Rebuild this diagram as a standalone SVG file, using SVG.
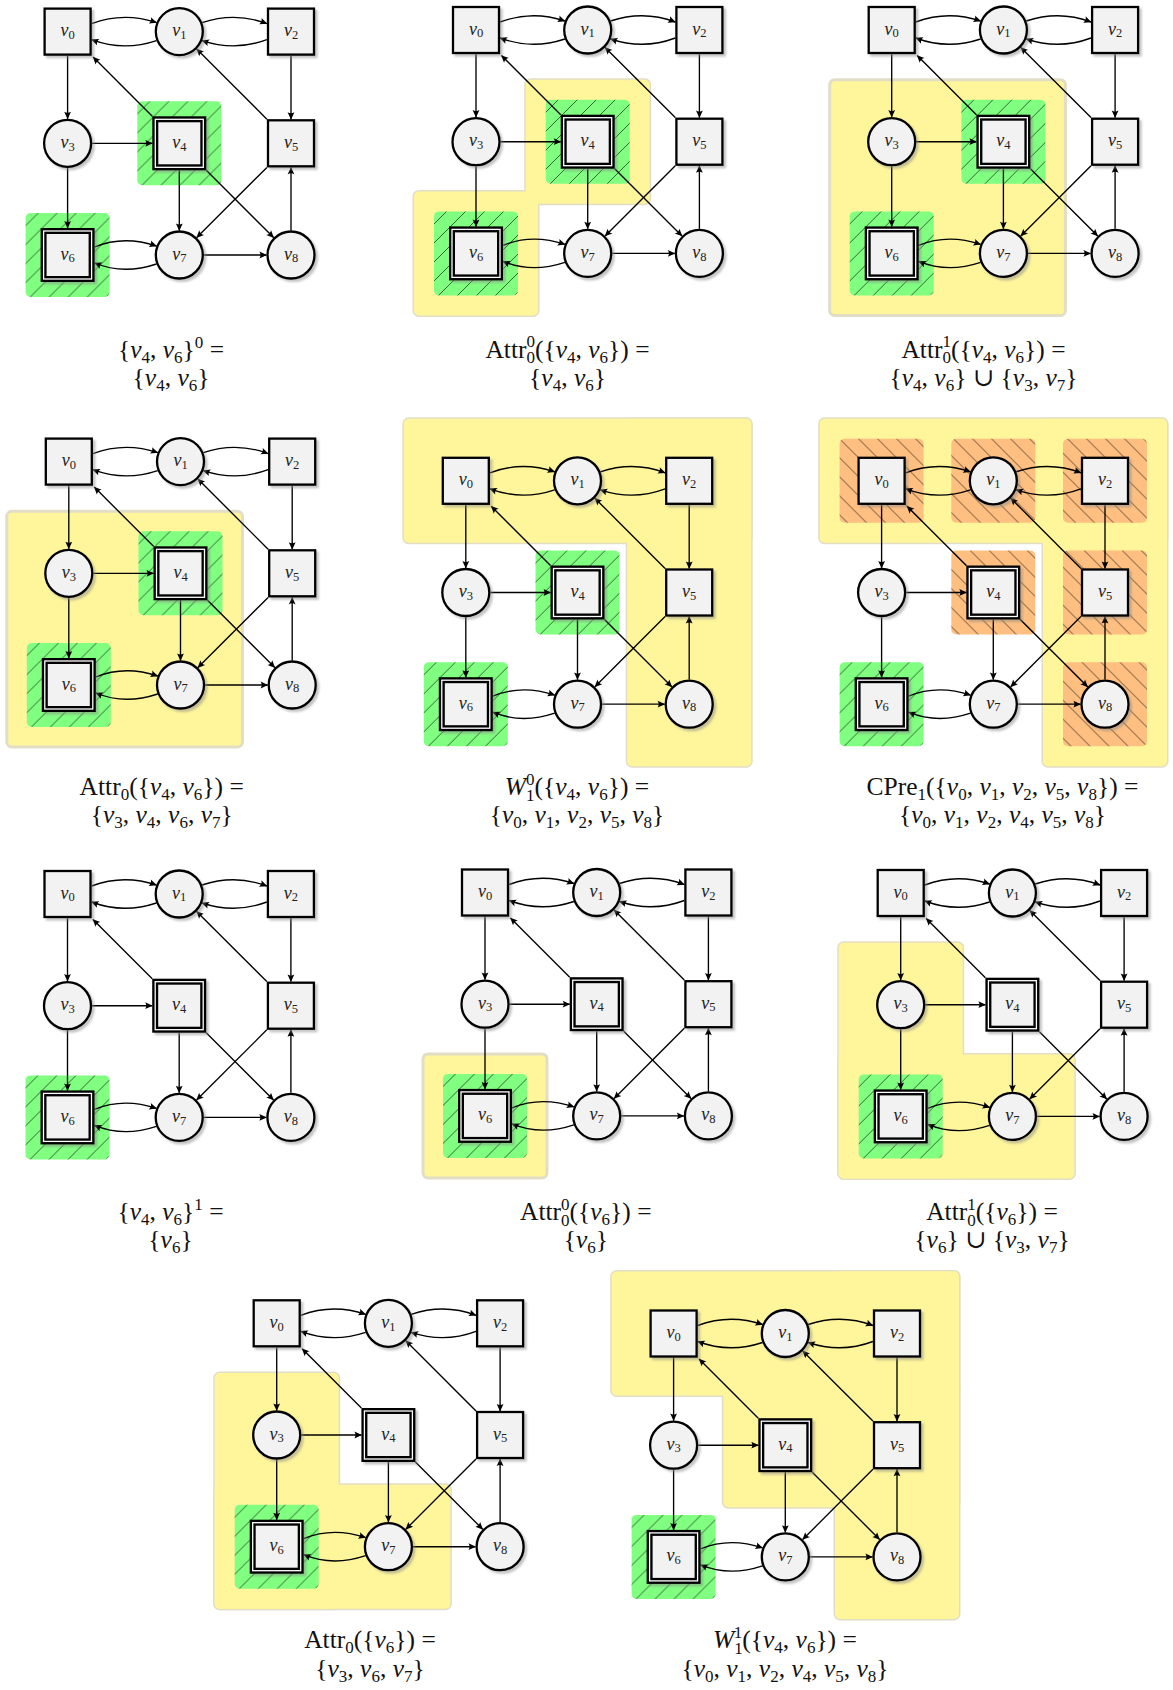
<svg xmlns="http://www.w3.org/2000/svg" xmlns:xlink="http://www.w3.org/1999/xlink" width="1173" height="1690" viewBox="0 0 1173 1690">
<style>
.edges path{fill:none;stroke:#000;stroke-width:1.35;marker-end:url(#arr)}
.nd{fill:#f2f2f2;stroke:#000;stroke-width:2.3}
.dbl{fill:#f2f2f2;stroke:#000;stroke-width:6}
.dbw{fill:none;stroke:#fff;stroke-width:1.3}
.sh{fill:#8a8a8a;opacity:.5;filter:url(#blur)}
.ys{fill:#fff59b;stroke:#e2dec6;stroke-width:3}
.yf{fill:#fff59b}
.gr{fill:url(#gp)}
.or{fill:url(#op)}
.lb{font-family:"Liberation Serif","DejaVu Serif",serif;font-size:18px;text-anchor:middle;fill:#222}
.cap{font-family:"Liberation Serif","DejaVu Serif",serif;font-size:25.5px;text-anchor:middle;fill:#111}
.i{font-style:italic}
.s{font-size:12.5px}
.cap .s{font-size:17px}
</style>
<defs>
<filter id="blur" x="-20%" y="-20%" width="140%" height="140%"><feGaussianBlur stdDeviation="0.8"/></filter>
<marker id="arr" viewBox="-8 -5 10 10" refX="0" refY="0" markerWidth="10" markerHeight="10" markerUnits="userSpaceOnUse" orient="auto"><path d="M0.5,0L-7,-3.4Q-4.8,0 -7,3.4Z" fill="#000"/></marker>
<pattern id="gp" patternUnits="userSpaceOnUse" width="19" height="19"><rect width="19" height="19" fill="#80ff80"/><path d="M0,19L19,0M-2,2L2,-2M17,21L21,17" stroke="#000" stroke-width=".6"/></pattern>
<pattern id="op" patternUnits="userSpaceOnUse" width="19" height="19"><rect width="19" height="19" fill="#ffbf80"/><path d="M0,0L19,19M17,-2L21,2M-2,17L2,21" stroke="#000" stroke-width=".6"/></pattern>
<g id="sq"><rect x="-21.6" y="-21.6" width="48.2" height="48.2" class="sh"/><rect x="-23" y="-23" width="46" height="46" class="nd"/></g>
<g id="ci"><circle cx="2.5" cy="2.5" r="24.6" class="sh"/><circle r="23.5" class="nd"/></g>
<g id="ds"><rect x="-24.5" y="-24.5" width="54" height="54" class="sh"/><rect x="-24" y="-24" width="48" height="48" class="dbl"/><rect x="-24" y="-24" width="48" height="48" class="dbw"/></g>
</defs>
<rect width="1173" height="1690" fill="#fff"/>

<!-- PANEL 1 -->
<g id="panel1">
<g transform="translate(67.6,31.6)">
<g class="regions"><rect class="gr" x="69.7" y="69.7" width="84" height="84" rx="5"/><rect class="gr" x="-42" y="181.4" width="84" height="84" rx="5"/></g>
<g id="p1-connectors" class="edges">
<path d="M24.1,-8Q56,-20 88.9,-9"/><path d="M88.9,9Q56,20 24.1,8"/><path d="M134.5,-9Q167.5,-20 199.3,-8"/><path d="M199.3,8Q167.5,20 134.5,9"/><path d="M0,24.1V87.1"/><path d="M84.7,84.7L25.5,25.5"/><path d="M199.3,87.6L129.1,17.4"/><path d="M223.4,24.1V87.6"/><path d="M24.6,111.7H84.7"/><path d="M0,136.3V196.4"/><path d="M111.7,138.7V198.8"/><path d="M138.7,138.7L206,206"/><path d="M199.3,135.8L129.1,206"/><path d="M223.4,198.8V135.8"/><path d="M27,215.4Q56,203.4 88.9,214.4"/><path d="M88.9,232.4Q56,243.4 27,231.4"/><path d="M136.3,223.4H198.8"/>
</g>
<g id="p1-v0"><use href="#sq"/><text class="lb" y="4.5"><tspan class="i">v</tspan><tspan class="s" dy="2.7">0</tspan></text></g>
<g id="p1-v1" transform="translate(111.7,0)"><use href="#ci"/><text class="lb" y="4.5"><tspan class="i">v</tspan><tspan class="s" dy="2.7">1</tspan></text></g>
<g id="p1-v2" transform="translate(223.4,0)"><use href="#sq"/><text class="lb" y="4.5"><tspan class="i">v</tspan><tspan class="s" dy="2.7">2</tspan></text></g>
<g id="p1-v3" transform="translate(0,111.7)"><use href="#ci"/><text class="lb" y="4.5"><tspan class="i">v</tspan><tspan class="s" dy="2.7">3</tspan></text></g>
<g id="p1-v4" transform="translate(111.7,111.7)"><use href="#ds"/><text class="lb" y="4.5"><tspan class="i">v</tspan><tspan class="s" dy="2.7">4</tspan></text></g>
<g id="p1-v5" transform="translate(223.4,111.7)"><use href="#sq"/><text class="lb" y="4.5"><tspan class="i">v</tspan><tspan class="s" dy="2.7">5</tspan></text></g>
<g id="p1-v6" transform="translate(0,223.4)"><use href="#ds"/><text class="lb" y="4.5"><tspan class="i">v</tspan><tspan class="s" dy="2.7">6</tspan></text></g>
<g id="p1-v7" transform="translate(111.7,223.4)"><use href="#ci"/><text class="lb" y="4.5"><tspan class="i">v</tspan><tspan class="s" dy="2.7">7</tspan></text></g>
<g id="p1-v8" transform="translate(223.4,223.4)"><use href="#ci"/><text class="lb" y="4.5"><tspan class="i">v</tspan><tspan class="s" dy="2.7">8</tspan></text></g>
</g>
<text class="cap" x="171" y="357.5">{<tspan class="i">v</tspan><tspan class="s" dy="5">4</tspan><tspan dy="-5">, </tspan><tspan class="i">v</tspan><tspan class="s" dy="5">6</tspan><tspan dy="-5">}</tspan><tspan class="s" dy="-10">0</tspan><tspan dy="10"> =</tspan></text>
<text class="cap" x="171" y="386">{<tspan class="i">v</tspan><tspan class="s" dy="5">4</tspan><tspan dy="-5">, </tspan><tspan class="i">v</tspan><tspan class="s" dy="5">6</tspan><tspan dy="-5">}</tspan></text>
</g>

<!-- PANEL 2 -->
<g id="panel2">
<g transform="translate(476,30)">
<g class="regions"><rect class="ys" x="49.7" y="49.7" width="124" height="124" rx="5"/><rect class="ys" x="-62" y="161.4" width="124" height="124" rx="5"/><rect class="yf" x="49.7" y="49.7" width="124" height="124" rx="5"/><rect class="yf" x="-62" y="161.4" width="124" height="124" rx="5"/><rect class="gr" x="69.7" y="69.7" width="84" height="84" rx="5"/><rect class="gr" x="-42" y="181.4" width="84" height="84" rx="5"/></g>
<g id="p2-connectors" class="edges">
<path d="M24.1,-8Q56,-20 88.9,-9"/><path d="M88.9,9Q56,20 24.1,8"/><path d="M134.5,-9Q167.5,-20 199.3,-8"/><path d="M199.3,8Q167.5,20 134.5,9"/><path d="M0,24.1V87.1"/><path d="M84.7,84.7L25.5,25.5"/><path d="M199.3,87.6L129.1,17.4"/><path d="M223.4,24.1V87.6"/><path d="M24.6,111.7H84.7"/><path d="M0,136.3V196.4"/><path d="M111.7,138.7V198.8"/><path d="M138.7,138.7L206,206"/><path d="M199.3,135.8L129.1,206"/><path d="M223.4,198.8V135.8"/><path d="M27,215.4Q56,203.4 88.9,214.4"/><path d="M88.9,232.4Q56,243.4 27,231.4"/><path d="M136.3,223.4H198.8"/>
</g>
<g id="p2-v0"><use href="#sq"/><text class="lb" y="4.5"><tspan class="i">v</tspan><tspan class="s" dy="2.7">0</tspan></text></g>
<g id="p2-v1" transform="translate(111.7,0)"><use href="#ci"/><text class="lb" y="4.5"><tspan class="i">v</tspan><tspan class="s" dy="2.7">1</tspan></text></g>
<g id="p2-v2" transform="translate(223.4,0)"><use href="#sq"/><text class="lb" y="4.5"><tspan class="i">v</tspan><tspan class="s" dy="2.7">2</tspan></text></g>
<g id="p2-v3" transform="translate(0,111.7)"><use href="#ci"/><text class="lb" y="4.5"><tspan class="i">v</tspan><tspan class="s" dy="2.7">3</tspan></text></g>
<g id="p2-v4" transform="translate(111.7,111.7)"><use href="#ds"/><text class="lb" y="4.5"><tspan class="i">v</tspan><tspan class="s" dy="2.7">4</tspan></text></g>
<g id="p2-v5" transform="translate(223.4,111.7)"><use href="#sq"/><text class="lb" y="4.5"><tspan class="i">v</tspan><tspan class="s" dy="2.7">5</tspan></text></g>
<g id="p2-v6" transform="translate(0,223.4)"><use href="#ds"/><text class="lb" y="4.5"><tspan class="i">v</tspan><tspan class="s" dy="2.7">6</tspan></text></g>
<g id="p2-v7" transform="translate(111.7,223.4)"><use href="#ci"/><text class="lb" y="4.5"><tspan class="i">v</tspan><tspan class="s" dy="2.7">7</tspan></text></g>
<g id="p2-v8" transform="translate(223.4,223.4)"><use href="#ci"/><text class="lb" y="4.5"><tspan class="i">v</tspan><tspan class="s" dy="2.7">8</tspan></text></g>
</g>
<text class="cap" x="567.5" y="357.5">Attr<tspan class="s" dy="5.5">0</tspan><tspan class="s" dx="-8.5" dy="-16">0</tspan><tspan dy="10.5">({</tspan><tspan class="i">v</tspan><tspan class="s" dy="5">4</tspan><tspan dy="-5">, </tspan><tspan class="i">v</tspan><tspan class="s" dy="5">6</tspan><tspan dy="-5">}) =</tspan></text>
<text class="cap" x="567.5" y="386">{<tspan class="i">v</tspan><tspan class="s" dy="5">4</tspan><tspan dy="-5">, </tspan><tspan class="i">v</tspan><tspan class="s" dy="5">6</tspan><tspan dy="-5">}</tspan></text>
</g>

<!-- PANEL 3 -->
<g id="panel3">
<g transform="translate(891.7,30)">
<g class="regions"><rect class="ys" x="-62" y="49.7" width="235.7" height="235.7" rx="5"/><rect class="gr" x="69.7" y="69.7" width="84" height="84" rx="5"/><rect class="gr" x="-42" y="181.4" width="84" height="84" rx="5"/></g>
<g id="p3-connectors" class="edges">
<path d="M24.1,-8Q56,-20 88.9,-9"/><path d="M88.9,9Q56,20 24.1,8"/><path d="M134.5,-9Q167.5,-20 199.3,-8"/><path d="M199.3,8Q167.5,20 134.5,9"/><path d="M0,24.1V87.1"/><path d="M84.7,84.7L25.5,25.5"/><path d="M199.3,87.6L129.1,17.4"/><path d="M223.4,24.1V87.6"/><path d="M24.6,111.7H84.7"/><path d="M0,136.3V196.4"/><path d="M111.7,138.7V198.8"/><path d="M138.7,138.7L206,206"/><path d="M199.3,135.8L129.1,206"/><path d="M223.4,198.8V135.8"/><path d="M27,215.4Q56,203.4 88.9,214.4"/><path d="M88.9,232.4Q56,243.4 27,231.4"/><path d="M136.3,223.4H198.8"/>
</g>
<g id="p3-v0"><use href="#sq"/><text class="lb" y="4.5"><tspan class="i">v</tspan><tspan class="s" dy="2.7">0</tspan></text></g>
<g id="p3-v1" transform="translate(111.7,0)"><use href="#ci"/><text class="lb" y="4.5"><tspan class="i">v</tspan><tspan class="s" dy="2.7">1</tspan></text></g>
<g id="p3-v2" transform="translate(223.4,0)"><use href="#sq"/><text class="lb" y="4.5"><tspan class="i">v</tspan><tspan class="s" dy="2.7">2</tspan></text></g>
<g id="p3-v3" transform="translate(0,111.7)"><use href="#ci"/><text class="lb" y="4.5"><tspan class="i">v</tspan><tspan class="s" dy="2.7">3</tspan></text></g>
<g id="p3-v4" transform="translate(111.7,111.7)"><use href="#ds"/><text class="lb" y="4.5"><tspan class="i">v</tspan><tspan class="s" dy="2.7">4</tspan></text></g>
<g id="p3-v5" transform="translate(223.4,111.7)"><use href="#sq"/><text class="lb" y="4.5"><tspan class="i">v</tspan><tspan class="s" dy="2.7">5</tspan></text></g>
<g id="p3-v6" transform="translate(0,223.4)"><use href="#ds"/><text class="lb" y="4.5"><tspan class="i">v</tspan><tspan class="s" dy="2.7">6</tspan></text></g>
<g id="p3-v7" transform="translate(111.7,223.4)"><use href="#ci"/><text class="lb" y="4.5"><tspan class="i">v</tspan><tspan class="s" dy="2.7">7</tspan></text></g>
<g id="p3-v8" transform="translate(223.4,223.4)"><use href="#ci"/><text class="lb" y="4.5"><tspan class="i">v</tspan><tspan class="s" dy="2.7">8</tspan></text></g>
</g>
<text class="cap" x="983.5" y="357.5">Attr<tspan class="s" dy="5.5">0</tspan><tspan class="s" dx="-8.5" dy="-16">1</tspan><tspan dy="10.5">({</tspan><tspan class="i">v</tspan><tspan class="s" dy="5">4</tspan><tspan dy="-5">, </tspan><tspan class="i">v</tspan><tspan class="s" dy="5">6</tspan><tspan dy="-5">}) =</tspan></text>
<text class="cap" x="983.5" y="386">{<tspan class="i">v</tspan><tspan class="s" dy="5">4</tspan><tspan dy="-5">, </tspan><tspan class="i">v</tspan><tspan class="s" dy="5">6</tspan><tspan dy="-5">} ∪ {</tspan><tspan class="i">v</tspan><tspan class="s" dy="5">3</tspan><tspan dy="-5">, </tspan><tspan class="i">v</tspan><tspan class="s" dy="5">7</tspan><tspan dy="-5">}</tspan></text>
</g>

<!-- PANEL 4 -->
<g id="panel4">
<g transform="translate(68.8,461.6)">
<g class="regions"><rect class="ys" x="-62" y="49.7" width="235.7" height="235.7" rx="5"/><rect class="gr" x="69.7" y="69.7" width="84" height="84" rx="5"/><rect class="gr" x="-42" y="181.4" width="84" height="84" rx="5"/></g>
<g id="p4-connectors" class="edges">
<path d="M24.1,-8Q56,-20 88.9,-9"/><path d="M88.9,9Q56,20 24.1,8"/><path d="M134.5,-9Q167.5,-20 199.3,-8"/><path d="M199.3,8Q167.5,20 134.5,9"/><path d="M0,24.1V87.1"/><path d="M84.7,84.7L25.5,25.5"/><path d="M199.3,87.6L129.1,17.4"/><path d="M223.4,24.1V87.6"/><path d="M24.6,111.7H84.7"/><path d="M0,136.3V196.4"/><path d="M111.7,138.7V198.8"/><path d="M138.7,138.7L206,206"/><path d="M199.3,135.8L129.1,206"/><path d="M223.4,198.8V135.8"/><path d="M27,215.4Q56,203.4 88.9,214.4"/><path d="M88.9,232.4Q56,243.4 27,231.4"/><path d="M136.3,223.4H198.8"/>
</g>
<g id="p4-v0"><use href="#sq"/><text class="lb" y="4.5"><tspan class="i">v</tspan><tspan class="s" dy="2.7">0</tspan></text></g>
<g id="p4-v1" transform="translate(111.7,0)"><use href="#ci"/><text class="lb" y="4.5"><tspan class="i">v</tspan><tspan class="s" dy="2.7">1</tspan></text></g>
<g id="p4-v2" transform="translate(223.4,0)"><use href="#sq"/><text class="lb" y="4.5"><tspan class="i">v</tspan><tspan class="s" dy="2.7">2</tspan></text></g>
<g id="p4-v3" transform="translate(0,111.7)"><use href="#ci"/><text class="lb" y="4.5"><tspan class="i">v</tspan><tspan class="s" dy="2.7">3</tspan></text></g>
<g id="p4-v4" transform="translate(111.7,111.7)"><use href="#ds"/><text class="lb" y="4.5"><tspan class="i">v</tspan><tspan class="s" dy="2.7">4</tspan></text></g>
<g id="p4-v5" transform="translate(223.4,111.7)"><use href="#sq"/><text class="lb" y="4.5"><tspan class="i">v</tspan><tspan class="s" dy="2.7">5</tspan></text></g>
<g id="p4-v6" transform="translate(0,223.4)"><use href="#ds"/><text class="lb" y="4.5"><tspan class="i">v</tspan><tspan class="s" dy="2.7">6</tspan></text></g>
<g id="p4-v7" transform="translate(111.7,223.4)"><use href="#ci"/><text class="lb" y="4.5"><tspan class="i">v</tspan><tspan class="s" dy="2.7">7</tspan></text></g>
<g id="p4-v8" transform="translate(223.4,223.4)"><use href="#ci"/><text class="lb" y="4.5"><tspan class="i">v</tspan><tspan class="s" dy="2.7">8</tspan></text></g>
</g>
<text class="cap" x="161.7" y="795">Attr<tspan class="s" dy="5">0</tspan><tspan dy="-5">({</tspan><tspan class="i">v</tspan><tspan class="s" dy="5">4</tspan><tspan dy="-5">, </tspan><tspan class="i">v</tspan><tspan class="s" dy="5">6</tspan><tspan dy="-5">}) =</tspan></text>
<text class="cap" x="161.7" y="823">{<tspan class="i">v</tspan><tspan class="s" dy="5">3</tspan><tspan dy="-5">, </tspan><tspan class="i">v</tspan><tspan class="s" dy="5">4</tspan><tspan dy="-5">, </tspan><tspan class="i">v</tspan><tspan class="s" dy="5">6</tspan><tspan dy="-5">, </tspan><tspan class="i">v</tspan><tspan class="s" dy="5">7</tspan><tspan dy="-5">}</tspan></text>
</g>

<!-- PANEL 5 -->
<g id="panel5">
<g transform="translate(465.8,480.8)">
<g class="regions"><rect class="ys" x="-62" y="-62" width="347.4" height="124" rx="5"/><rect class="ys" x="161.4" y="-62" width="124" height="347.4" rx="5"/><rect class="yf" x="-62" y="-62" width="347.4" height="124" rx="5"/><rect class="yf" x="161.4" y="-62" width="124" height="347.4" rx="5"/><rect class="gr" x="69.7" y="69.7" width="84" height="84" rx="5"/><rect class="gr" x="-42" y="181.4" width="84" height="84" rx="5"/></g>
<g id="p5-connectors" class="edges">
<path d="M24.1,-8Q56,-20 88.9,-9"/><path d="M88.9,9Q56,20 24.1,8"/><path d="M134.5,-9Q167.5,-20 199.3,-8"/><path d="M199.3,8Q167.5,20 134.5,9"/><path d="M0,24.1V87.1"/><path d="M84.7,84.7L25.5,25.5"/><path d="M199.3,87.6L129.1,17.4"/><path d="M223.4,24.1V87.6"/><path d="M24.6,111.7H84.7"/><path d="M0,136.3V196.4"/><path d="M111.7,138.7V198.8"/><path d="M138.7,138.7L206,206"/><path d="M199.3,135.8L129.1,206"/><path d="M223.4,198.8V135.8"/><path d="M27,215.4Q56,203.4 88.9,214.4"/><path d="M88.9,232.4Q56,243.4 27,231.4"/><path d="M136.3,223.4H198.8"/>
</g>
<g id="p5-v0"><use href="#sq"/><text class="lb" y="4.5"><tspan class="i">v</tspan><tspan class="s" dy="2.7">0</tspan></text></g>
<g id="p5-v1" transform="translate(111.7,0)"><use href="#ci"/><text class="lb" y="4.5"><tspan class="i">v</tspan><tspan class="s" dy="2.7">1</tspan></text></g>
<g id="p5-v2" transform="translate(223.4,0)"><use href="#sq"/><text class="lb" y="4.5"><tspan class="i">v</tspan><tspan class="s" dy="2.7">2</tspan></text></g>
<g id="p5-v3" transform="translate(0,111.7)"><use href="#ci"/><text class="lb" y="4.5"><tspan class="i">v</tspan><tspan class="s" dy="2.7">3</tspan></text></g>
<g id="p5-v4" transform="translate(111.7,111.7)"><use href="#ds"/><text class="lb" y="4.5"><tspan class="i">v</tspan><tspan class="s" dy="2.7">4</tspan></text></g>
<g id="p5-v5" transform="translate(223.4,111.7)"><use href="#sq"/><text class="lb" y="4.5"><tspan class="i">v</tspan><tspan class="s" dy="2.7">5</tspan></text></g>
<g id="p5-v6" transform="translate(0,223.4)"><use href="#ds"/><text class="lb" y="4.5"><tspan class="i">v</tspan><tspan class="s" dy="2.7">6</tspan></text></g>
<g id="p5-v7" transform="translate(111.7,223.4)"><use href="#ci"/><text class="lb" y="4.5"><tspan class="i">v</tspan><tspan class="s" dy="2.7">7</tspan></text></g>
<g id="p5-v8" transform="translate(223.4,223.4)"><use href="#ci"/><text class="lb" y="4.5"><tspan class="i">v</tspan><tspan class="s" dy="2.7">8</tspan></text></g>
</g>
<text class="cap" x="577" y="795"><tspan class="i">W</tspan><tspan class="s" dy="5.5">1</tspan><tspan class="s" dx="-8.5" dy="-16">0</tspan><tspan dy="10.5">({</tspan><tspan class="i">v</tspan><tspan class="s" dy="5">4</tspan><tspan dy="-5">, </tspan><tspan class="i">v</tspan><tspan class="s" dy="5">6</tspan><tspan dy="-5">}) =</tspan></text>
<text class="cap" x="577" y="823">{<tspan class="i">v</tspan><tspan class="s" dy="5">0</tspan><tspan dy="-5">, </tspan><tspan class="i">v</tspan><tspan class="s" dy="5">1</tspan><tspan dy="-5">, </tspan><tspan class="i">v</tspan><tspan class="s" dy="5">2</tspan><tspan dy="-5">, </tspan><tspan class="i">v</tspan><tspan class="s" dy="5">5</tspan><tspan dy="-5">, </tspan><tspan class="i">v</tspan><tspan class="s" dy="5">8</tspan><tspan dy="-5">}</tspan></text>
</g>

<!-- PANEL 6 -->
<g id="panel6">
<g transform="translate(881.6,480.8)">
<g class="regions"><rect class="ys" x="-62" y="-62" width="347.4" height="124" rx="5"/><rect class="ys" x="161.4" y="-62" width="124" height="347.4" rx="5"/><rect class="yf" x="-62" y="-62" width="347.4" height="124" rx="5"/><rect class="yf" x="161.4" y="-62" width="124" height="347.4" rx="5"/><rect class="or" x="-42" y="-42" width="84" height="84" rx="5"/><rect class="or" x="69.7" y="-42" width="84" height="84" rx="5"/><rect class="or" x="181.4" y="-42" width="84" height="84" rx="5"/><rect class="or" x="69.7" y="69.7" width="84" height="84" rx="5"/><rect class="or" x="181.4" y="69.7" width="84" height="84" rx="5"/><rect class="or" x="181.4" y="181.4" width="84" height="84" rx="5"/><rect class="gr" x="-42" y="181.4" width="84" height="84" rx="5"/></g>
<g id="p6-connectors" class="edges">
<path d="M24.1,-8Q56,-20 88.9,-9"/><path d="M88.9,9Q56,20 24.1,8"/><path d="M134.5,-9Q167.5,-20 199.3,-8"/><path d="M199.3,8Q167.5,20 134.5,9"/><path d="M0,24.1V87.1"/><path d="M84.7,84.7L25.5,25.5"/><path d="M199.3,87.6L129.1,17.4"/><path d="M223.4,24.1V87.6"/><path d="M24.6,111.7H84.7"/><path d="M0,136.3V196.4"/><path d="M111.7,138.7V198.8"/><path d="M138.7,138.7L206,206"/><path d="M199.3,135.8L129.1,206"/><path d="M223.4,198.8V135.8"/><path d="M27,215.4Q56,203.4 88.9,214.4"/><path d="M88.9,232.4Q56,243.4 27,231.4"/><path d="M136.3,223.4H198.8"/>
</g>
<g id="p6-v0"><use href="#sq"/><text class="lb" y="4.5"><tspan class="i">v</tspan><tspan class="s" dy="2.7">0</tspan></text></g>
<g id="p6-v1" transform="translate(111.7,0)"><use href="#ci"/><text class="lb" y="4.5"><tspan class="i">v</tspan><tspan class="s" dy="2.7">1</tspan></text></g>
<g id="p6-v2" transform="translate(223.4,0)"><use href="#sq"/><text class="lb" y="4.5"><tspan class="i">v</tspan><tspan class="s" dy="2.7">2</tspan></text></g>
<g id="p6-v3" transform="translate(0,111.7)"><use href="#ci"/><text class="lb" y="4.5"><tspan class="i">v</tspan><tspan class="s" dy="2.7">3</tspan></text></g>
<g id="p6-v4" transform="translate(111.7,111.7)"><use href="#ds"/><text class="lb" y="4.5"><tspan class="i">v</tspan><tspan class="s" dy="2.7">4</tspan></text></g>
<g id="p6-v5" transform="translate(223.4,111.7)"><use href="#sq"/><text class="lb" y="4.5"><tspan class="i">v</tspan><tspan class="s" dy="2.7">5</tspan></text></g>
<g id="p6-v6" transform="translate(0,223.4)"><use href="#ds"/><text class="lb" y="4.5"><tspan class="i">v</tspan><tspan class="s" dy="2.7">6</tspan></text></g>
<g id="p6-v7" transform="translate(111.7,223.4)"><use href="#ci"/><text class="lb" y="4.5"><tspan class="i">v</tspan><tspan class="s" dy="2.7">7</tspan></text></g>
<g id="p6-v8" transform="translate(223.4,223.4)"><use href="#ci"/><text class="lb" y="4.5"><tspan class="i">v</tspan><tspan class="s" dy="2.7">8</tspan></text></g>
</g>
<text class="cap" x="1002.5" y="795">CPre<tspan class="s" dy="5">1</tspan><tspan dy="-5">({</tspan><tspan class="i">v</tspan><tspan class="s" dy="5">0</tspan><tspan dy="-5">, </tspan><tspan class="i">v</tspan><tspan class="s" dy="5">1</tspan><tspan dy="-5">, </tspan><tspan class="i">v</tspan><tspan class="s" dy="5">2</tspan><tspan dy="-5">, </tspan><tspan class="i">v</tspan><tspan class="s" dy="5">5</tspan><tspan dy="-5">, </tspan><tspan class="i">v</tspan><tspan class="s" dy="5">8</tspan><tspan dy="-5">}) =</tspan></text>
<text class="cap" x="1002.5" y="823">{<tspan class="i">v</tspan><tspan class="s" dy="5">0</tspan><tspan dy="-5">, </tspan><tspan class="i">v</tspan><tspan class="s" dy="5">1</tspan><tspan dy="-5">, </tspan><tspan class="i">v</tspan><tspan class="s" dy="5">2</tspan><tspan dy="-5">, </tspan><tspan class="i">v</tspan><tspan class="s" dy="5">4</tspan><tspan dy="-5">, </tspan><tspan class="i">v</tspan><tspan class="s" dy="5">5</tspan><tspan dy="-5">, </tspan><tspan class="i">v</tspan><tspan class="s" dy="5">8</tspan><tspan dy="-5">}</tspan></text>
</g>

<!-- PANEL 7 -->
<g id="panel7">
<g transform="translate(67.5,894)">
<g class="regions"><rect class="gr" x="-42" y="181.4" width="84" height="84" rx="5"/></g>
<g id="p7-connectors" class="edges">
<path d="M24.1,-8Q56,-20 88.9,-9"/><path d="M88.9,9Q56,20 24.1,8"/><path d="M134.5,-9Q167.5,-20 199.3,-8"/><path d="M199.3,8Q167.5,20 134.5,9"/><path d="M0,24.1V87.1"/><path d="M84.7,84.7L25.5,25.5"/><path d="M199.3,87.6L129.1,17.4"/><path d="M223.4,24.1V87.6"/><path d="M24.6,111.7H84.7"/><path d="M0,136.3V196.4"/><path d="M111.7,138.7V198.8"/><path d="M138.7,138.7L206,206"/><path d="M199.3,135.8L129.1,206"/><path d="M223.4,198.8V135.8"/><path d="M27,215.4Q56,203.4 88.9,214.4"/><path d="M88.9,232.4Q56,243.4 27,231.4"/><path d="M136.3,223.4H198.8"/>
</g>
<g id="p7-v0"><use href="#sq"/><text class="lb" y="4.5"><tspan class="i">v</tspan><tspan class="s" dy="2.7">0</tspan></text></g>
<g id="p7-v1" transform="translate(111.7,0)"><use href="#ci"/><text class="lb" y="4.5"><tspan class="i">v</tspan><tspan class="s" dy="2.7">1</tspan></text></g>
<g id="p7-v2" transform="translate(223.4,0)"><use href="#sq"/><text class="lb" y="4.5"><tspan class="i">v</tspan><tspan class="s" dy="2.7">2</tspan></text></g>
<g id="p7-v3" transform="translate(0,111.7)"><use href="#ci"/><text class="lb" y="4.5"><tspan class="i">v</tspan><tspan class="s" dy="2.7">3</tspan></text></g>
<g id="p7-v4" transform="translate(111.7,111.7)"><use href="#ds"/><text class="lb" y="4.5"><tspan class="i">v</tspan><tspan class="s" dy="2.7">4</tspan></text></g>
<g id="p7-v5" transform="translate(223.4,111.7)"><use href="#sq"/><text class="lb" y="4.5"><tspan class="i">v</tspan><tspan class="s" dy="2.7">5</tspan></text></g>
<g id="p7-v6" transform="translate(0,223.4)"><use href="#ds"/><text class="lb" y="4.5"><tspan class="i">v</tspan><tspan class="s" dy="2.7">6</tspan></text></g>
<g id="p7-v7" transform="translate(111.7,223.4)"><use href="#ci"/><text class="lb" y="4.5"><tspan class="i">v</tspan><tspan class="s" dy="2.7">7</tspan></text></g>
<g id="p7-v8" transform="translate(223.4,223.4)"><use href="#ci"/><text class="lb" y="4.5"><tspan class="i">v</tspan><tspan class="s" dy="2.7">8</tspan></text></g>
</g>
<text class="cap" x="170.5" y="1220">{<tspan class="i">v</tspan><tspan class="s" dy="5">4</tspan><tspan dy="-5">, </tspan><tspan class="i">v</tspan><tspan class="s" dy="5">6</tspan><tspan dy="-5">}</tspan><tspan class="s" dy="-10">1</tspan><tspan dy="10"> =</tspan></text>
<text class="cap" x="170.5" y="1248">{<tspan class="i">v</tspan><tspan class="s" dy="5">6</tspan><tspan dy="-5">}</tspan></text>
</g>

<!-- PANEL 8 -->
<g id="panel8">
<g transform="translate(485,892.5)">
<g class="regions"><rect class="ys" x="-62" y="161.4" width="124" height="124" rx="5"/><rect class="gr" x="-42" y="181.4" width="84" height="84" rx="5"/></g>
<g id="p8-connectors" class="edges">
<path d="M24.1,-8Q56,-20 88.9,-9"/><path d="M88.9,9Q56,20 24.1,8"/><path d="M134.5,-9Q167.5,-20 199.3,-8"/><path d="M199.3,8Q167.5,20 134.5,9"/><path d="M0,24.1V87.1"/><path d="M84.7,84.7L25.5,25.5"/><path d="M199.3,87.6L129.1,17.4"/><path d="M223.4,24.1V87.6"/><path d="M24.6,111.7H84.7"/><path d="M0,136.3V196.4"/><path d="M111.7,138.7V198.8"/><path d="M138.7,138.7L206,206"/><path d="M199.3,135.8L129.1,206"/><path d="M223.4,198.8V135.8"/><path d="M27,215.4Q56,203.4 88.9,214.4"/><path d="M88.9,232.4Q56,243.4 27,231.4"/><path d="M136.3,223.4H198.8"/>
</g>
<g id="p8-v0"><use href="#sq"/><text class="lb" y="4.5"><tspan class="i">v</tspan><tspan class="s" dy="2.7">0</tspan></text></g>
<g id="p8-v1" transform="translate(111.7,0)"><use href="#ci"/><text class="lb" y="4.5"><tspan class="i">v</tspan><tspan class="s" dy="2.7">1</tspan></text></g>
<g id="p8-v2" transform="translate(223.4,0)"><use href="#sq"/><text class="lb" y="4.5"><tspan class="i">v</tspan><tspan class="s" dy="2.7">2</tspan></text></g>
<g id="p8-v3" transform="translate(0,111.7)"><use href="#ci"/><text class="lb" y="4.5"><tspan class="i">v</tspan><tspan class="s" dy="2.7">3</tspan></text></g>
<g id="p8-v4" transform="translate(111.7,111.7)"><use href="#ds"/><text class="lb" y="4.5"><tspan class="i">v</tspan><tspan class="s" dy="2.7">4</tspan></text></g>
<g id="p8-v5" transform="translate(223.4,111.7)"><use href="#sq"/><text class="lb" y="4.5"><tspan class="i">v</tspan><tspan class="s" dy="2.7">5</tspan></text></g>
<g id="p8-v6" transform="translate(0,223.4)"><use href="#ds"/><text class="lb" y="4.5"><tspan class="i">v</tspan><tspan class="s" dy="2.7">6</tspan></text></g>
<g id="p8-v7" transform="translate(111.7,223.4)"><use href="#ci"/><text class="lb" y="4.5"><tspan class="i">v</tspan><tspan class="s" dy="2.7">7</tspan></text></g>
<g id="p8-v8" transform="translate(223.4,223.4)"><use href="#ci"/><text class="lb" y="4.5"><tspan class="i">v</tspan><tspan class="s" dy="2.7">8</tspan></text></g>
</g>
<text class="cap" x="585.8" y="1220">Attr<tspan class="s" dy="5.5">0</tspan><tspan class="s" dx="-8.5" dy="-16">0</tspan><tspan dy="10.5">({</tspan><tspan class="i">v</tspan><tspan class="s" dy="5">6</tspan><tspan dy="-5">}) =</tspan></text>
<text class="cap" x="585.8" y="1248">{<tspan class="i">v</tspan><tspan class="s" dy="5">6</tspan><tspan dy="-5">}</tspan></text>
</g>

<!-- PANEL 9 -->
<g id="panel9">
<g transform="translate(900.7,893)">
<g class="regions"><rect class="ys" x="-62" y="49.7" width="124" height="235.7" rx="5"/><rect class="ys" x="-62" y="161.4" width="235.7" height="124" rx="5"/><rect class="yf" x="-62" y="49.7" width="124" height="235.7" rx="5"/><rect class="yf" x="-62" y="161.4" width="235.7" height="124" rx="5"/><rect class="gr" x="-42" y="181.4" width="84" height="84" rx="5"/></g>
<g id="p9-connectors" class="edges">
<path d="M24.1,-8Q56,-20 88.9,-9"/><path d="M88.9,9Q56,20 24.1,8"/><path d="M134.5,-9Q167.5,-20 199.3,-8"/><path d="M199.3,8Q167.5,20 134.5,9"/><path d="M0,24.1V87.1"/><path d="M84.7,84.7L25.5,25.5"/><path d="M199.3,87.6L129.1,17.4"/><path d="M223.4,24.1V87.6"/><path d="M24.6,111.7H84.7"/><path d="M0,136.3V196.4"/><path d="M111.7,138.7V198.8"/><path d="M138.7,138.7L206,206"/><path d="M199.3,135.8L129.1,206"/><path d="M223.4,198.8V135.8"/><path d="M27,215.4Q56,203.4 88.9,214.4"/><path d="M88.9,232.4Q56,243.4 27,231.4"/><path d="M136.3,223.4H198.8"/>
</g>
<g id="p9-v0"><use href="#sq"/><text class="lb" y="4.5"><tspan class="i">v</tspan><tspan class="s" dy="2.7">0</tspan></text></g>
<g id="p9-v1" transform="translate(111.7,0)"><use href="#ci"/><text class="lb" y="4.5"><tspan class="i">v</tspan><tspan class="s" dy="2.7">1</tspan></text></g>
<g id="p9-v2" transform="translate(223.4,0)"><use href="#sq"/><text class="lb" y="4.5"><tspan class="i">v</tspan><tspan class="s" dy="2.7">2</tspan></text></g>
<g id="p9-v3" transform="translate(0,111.7)"><use href="#ci"/><text class="lb" y="4.5"><tspan class="i">v</tspan><tspan class="s" dy="2.7">3</tspan></text></g>
<g id="p9-v4" transform="translate(111.7,111.7)"><use href="#ds"/><text class="lb" y="4.5"><tspan class="i">v</tspan><tspan class="s" dy="2.7">4</tspan></text></g>
<g id="p9-v5" transform="translate(223.4,111.7)"><use href="#sq"/><text class="lb" y="4.5"><tspan class="i">v</tspan><tspan class="s" dy="2.7">5</tspan></text></g>
<g id="p9-v6" transform="translate(0,223.4)"><use href="#ds"/><text class="lb" y="4.5"><tspan class="i">v</tspan><tspan class="s" dy="2.7">6</tspan></text></g>
<g id="p9-v7" transform="translate(111.7,223.4)"><use href="#ci"/><text class="lb" y="4.5"><tspan class="i">v</tspan><tspan class="s" dy="2.7">7</tspan></text></g>
<g id="p9-v8" transform="translate(223.4,223.4)"><use href="#ci"/><text class="lb" y="4.5"><tspan class="i">v</tspan><tspan class="s" dy="2.7">8</tspan></text></g>
</g>
<text class="cap" x="992" y="1220">Attr<tspan class="s" dy="5.5">0</tspan><tspan class="s" dx="-8.5" dy="-16">1</tspan><tspan dy="10.5">({</tspan><tspan class="i">v</tspan><tspan class="s" dy="5">6</tspan><tspan dy="-5">}) =</tspan></text>
<text class="cap" x="992" y="1248">{<tspan class="i">v</tspan><tspan class="s" dy="5">6</tspan><tspan dy="-5">} ∪ {</tspan><tspan class="i">v</tspan><tspan class="s" dy="5">3</tspan><tspan dy="-5">, </tspan><tspan class="i">v</tspan><tspan class="s" dy="5">7</tspan><tspan dy="-5">}</tspan></text>
</g>

<!-- PANEL 10 -->
<g id="panel10">
<g transform="translate(276.7,1323.3)">
<g class="regions"><rect class="ys" x="-62" y="49.7" width="124" height="235.7" rx="5"/><rect class="ys" x="-62" y="161.4" width="235.7" height="124" rx="5"/><rect class="yf" x="-62" y="49.7" width="124" height="235.7" rx="5"/><rect class="yf" x="-62" y="161.4" width="235.7" height="124" rx="5"/><rect class="gr" x="-42" y="181.4" width="84" height="84" rx="5"/></g>
<g id="p10-connectors" class="edges">
<path d="M24.1,-8Q56,-20 88.9,-9"/><path d="M88.9,9Q56,20 24.1,8"/><path d="M134.5,-9Q167.5,-20 199.3,-8"/><path d="M199.3,8Q167.5,20 134.5,9"/><path d="M0,24.1V87.1"/><path d="M84.7,84.7L25.5,25.5"/><path d="M199.3,87.6L129.1,17.4"/><path d="M223.4,24.1V87.6"/><path d="M24.6,111.7H84.7"/><path d="M0,136.3V196.4"/><path d="M111.7,138.7V198.8"/><path d="M138.7,138.7L206,206"/><path d="M199.3,135.8L129.1,206"/><path d="M223.4,198.8V135.8"/><path d="M27,215.4Q56,203.4 88.9,214.4"/><path d="M88.9,232.4Q56,243.4 27,231.4"/><path d="M136.3,223.4H198.8"/>
</g>
<g id="p10-v0"><use href="#sq"/><text class="lb" y="4.5"><tspan class="i">v</tspan><tspan class="s" dy="2.7">0</tspan></text></g>
<g id="p10-v1" transform="translate(111.7,0)"><use href="#ci"/><text class="lb" y="4.5"><tspan class="i">v</tspan><tspan class="s" dy="2.7">1</tspan></text></g>
<g id="p10-v2" transform="translate(223.4,0)"><use href="#sq"/><text class="lb" y="4.5"><tspan class="i">v</tspan><tspan class="s" dy="2.7">2</tspan></text></g>
<g id="p10-v3" transform="translate(0,111.7)"><use href="#ci"/><text class="lb" y="4.5"><tspan class="i">v</tspan><tspan class="s" dy="2.7">3</tspan></text></g>
<g id="p10-v4" transform="translate(111.7,111.7)"><use href="#ds"/><text class="lb" y="4.5"><tspan class="i">v</tspan><tspan class="s" dy="2.7">4</tspan></text></g>
<g id="p10-v5" transform="translate(223.4,111.7)"><use href="#sq"/><text class="lb" y="4.5"><tspan class="i">v</tspan><tspan class="s" dy="2.7">5</tspan></text></g>
<g id="p10-v6" transform="translate(0,223.4)"><use href="#ds"/><text class="lb" y="4.5"><tspan class="i">v</tspan><tspan class="s" dy="2.7">6</tspan></text></g>
<g id="p10-v7" transform="translate(111.7,223.4)"><use href="#ci"/><text class="lb" y="4.5"><tspan class="i">v</tspan><tspan class="s" dy="2.7">7</tspan></text></g>
<g id="p10-v8" transform="translate(223.4,223.4)"><use href="#ci"/><text class="lb" y="4.5"><tspan class="i">v</tspan><tspan class="s" dy="2.7">8</tspan></text></g>
</g>
<text class="cap" x="370" y="1648">Attr<tspan class="s" dy="5">0</tspan><tspan dy="-5">({</tspan><tspan class="i">v</tspan><tspan class="s" dy="5">6</tspan><tspan dy="-5">}) =</tspan></text>
<text class="cap" x="370" y="1677">{<tspan class="i">v</tspan><tspan class="s" dy="5">3</tspan><tspan dy="-5">, </tspan><tspan class="i">v</tspan><tspan class="s" dy="5">6</tspan><tspan dy="-5">, </tspan><tspan class="i">v</tspan><tspan class="s" dy="5">7</tspan><tspan dy="-5">}</tspan></text>
</g>

<!-- PANEL 11 -->
<g id="panel11">
<g transform="translate(673.6,1333.5)">
<g class="regions"><rect class="ys" x="-62" y="-62" width="347.4" height="124" rx="5"/><rect class="ys" x="49.7" y="49.7" width="235.7" height="124" rx="5"/><rect class="ys" x="161.4" y="-62" width="124" height="347.4" rx="5"/><rect class="yf" x="-62" y="-62" width="347.4" height="124" rx="5"/><rect class="yf" x="49.7" y="49.7" width="235.7" height="124" rx="5"/><rect class="yf" x="161.4" y="-62" width="124" height="347.4" rx="5"/><rect class="gr" x="-42" y="181.4" width="84" height="84" rx="5"/></g>
<g id="p11-connectors" class="edges">
<path d="M24.1,-8Q56,-20 88.9,-9"/><path d="M88.9,9Q56,20 24.1,8"/><path d="M134.5,-9Q167.5,-20 199.3,-8"/><path d="M199.3,8Q167.5,20 134.5,9"/><path d="M0,24.1V87.1"/><path d="M84.7,84.7L25.5,25.5"/><path d="M199.3,87.6L129.1,17.4"/><path d="M223.4,24.1V87.6"/><path d="M24.6,111.7H84.7"/><path d="M0,136.3V196.4"/><path d="M111.7,138.7V198.8"/><path d="M138.7,138.7L206,206"/><path d="M199.3,135.8L129.1,206"/><path d="M223.4,198.8V135.8"/><path d="M27,215.4Q56,203.4 88.9,214.4"/><path d="M88.9,232.4Q56,243.4 27,231.4"/><path d="M136.3,223.4H198.8"/>
</g>
<g id="p11-v0"><use href="#sq"/><text class="lb" y="4.5"><tspan class="i">v</tspan><tspan class="s" dy="2.7">0</tspan></text></g>
<g id="p11-v1" transform="translate(111.7,0)"><use href="#ci"/><text class="lb" y="4.5"><tspan class="i">v</tspan><tspan class="s" dy="2.7">1</tspan></text></g>
<g id="p11-v2" transform="translate(223.4,0)"><use href="#sq"/><text class="lb" y="4.5"><tspan class="i">v</tspan><tspan class="s" dy="2.7">2</tspan></text></g>
<g id="p11-v3" transform="translate(0,111.7)"><use href="#ci"/><text class="lb" y="4.5"><tspan class="i">v</tspan><tspan class="s" dy="2.7">3</tspan></text></g>
<g id="p11-v4" transform="translate(111.7,111.7)"><use href="#ds"/><text class="lb" y="4.5"><tspan class="i">v</tspan><tspan class="s" dy="2.7">4</tspan></text></g>
<g id="p11-v5" transform="translate(223.4,111.7)"><use href="#sq"/><text class="lb" y="4.5"><tspan class="i">v</tspan><tspan class="s" dy="2.7">5</tspan></text></g>
<g id="p11-v6" transform="translate(0,223.4)"><use href="#ds"/><text class="lb" y="4.5"><tspan class="i">v</tspan><tspan class="s" dy="2.7">6</tspan></text></g>
<g id="p11-v7" transform="translate(111.7,223.4)"><use href="#ci"/><text class="lb" y="4.5"><tspan class="i">v</tspan><tspan class="s" dy="2.7">7</tspan></text></g>
<g id="p11-v8" transform="translate(223.4,223.4)"><use href="#ci"/><text class="lb" y="4.5"><tspan class="i">v</tspan><tspan class="s" dy="2.7">8</tspan></text></g>
</g>
<text class="cap" x="785" y="1648"><tspan class="i">W</tspan><tspan class="s" dy="5.5">1</tspan><tspan class="s" dx="-8.5" dy="-16">1</tspan><tspan dy="10.5">({</tspan><tspan class="i">v</tspan><tspan class="s" dy="5">4</tspan><tspan dy="-5">, </tspan><tspan class="i">v</tspan><tspan class="s" dy="5">6</tspan><tspan dy="-5">}) =</tspan></text>
<text class="cap" x="785" y="1677">{<tspan class="i">v</tspan><tspan class="s" dy="5">0</tspan><tspan dy="-5">, </tspan><tspan class="i">v</tspan><tspan class="s" dy="5">1</tspan><tspan dy="-5">, </tspan><tspan class="i">v</tspan><tspan class="s" dy="5">2</tspan><tspan dy="-5">, </tspan><tspan class="i">v</tspan><tspan class="s" dy="5">4</tspan><tspan dy="-5">, </tspan><tspan class="i">v</tspan><tspan class="s" dy="5">5</tspan><tspan dy="-5">, </tspan><tspan class="i">v</tspan><tspan class="s" dy="5">8</tspan><tspan dy="-5">}</tspan></text>
</g>
</svg>
